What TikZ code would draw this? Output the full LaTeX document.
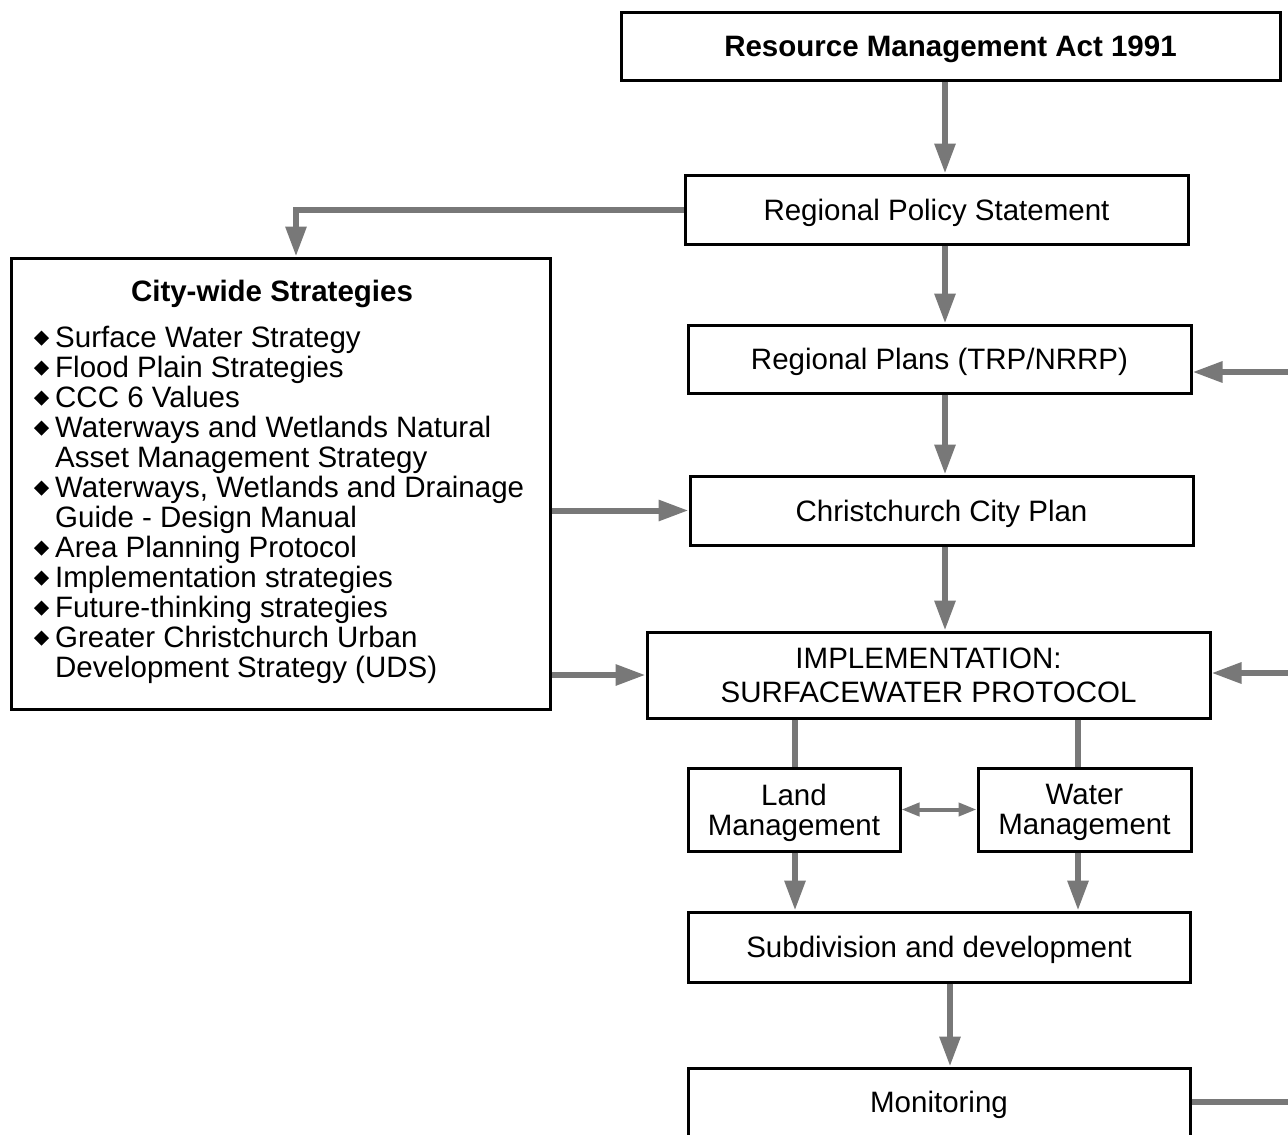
\documentclass[tikz,border=0pt]{standalone}
\usepackage{fontspec}
\setmainfont{Liberation Sans}
\usetikzlibrary{arrows.meta,positioning}
\definecolor{flowgray}{RGB}{120,120,120}
\tikzset{
    every node/.style={font=\fontsize{29.5}{30}\selectfont},
    box/.style={draw, line width=3pt, inner sep=0pt, text depth=0pt, align=center},
    flow/.style={draw=flowgray, line width=6pt, -{Triangle[length=30pt,width=20pt]}},
    link/.style={draw=flowgray, line width=6pt},
    both/.style={draw=flowgray, line width=4pt, {Triangle[length=18pt,width=13pt]}-{Triangle[length=18pt,width=13pt]}}
}
\begin{document}
\begin{tikzpicture}[x=1pt,y=-1pt]
    \useasboundingbox (0,0) rectangle (1288,1135);
    % boxes
    \node[box, minimum width=659, minimum height=68, font=\fontsize{29.5}{30}\selectfont\bfseries] (rma) at (950.5,46) {Resource Management Act 1991};
    \node[box, minimum width=503, minimum height=69] (rps) at (936.5,209.5) {Regional Policy Statement};
    \node[box, minimum width=503, minimum height=68] (rp) at (939.5,359) {Regional Plans (TRP/NRRP)};
    \node[box, minimum width=503, minimum height=69] (cp) at (941.5,510.5) {Christchurch City Plan};
    \node[box, minimum width=563, minimum height=86, font=\fontsize{29.5}{34}\selectfont] (impl) at (928.5,675) {IMPLEMENTATION:\\SURFACEWATER PROTOCOL};
    \node[box, minimum width=212, minimum height=83] (land) at (794,809.5) {Land\\Management};
    \node[box, minimum width=213, minimum height=83] (water) at (1084.5,809.5) {Water\\Management};
    \node[box, minimum width=502, minimum height=70] (subdiv) at (939,947) {Subdivision and development};
    \node[box, minimum width=502, minimum height=68] (mon) at (939,1102) {Monitoring};
    % city-wide strategies
    \node[box, minimum width=539, minimum height=451] (cws) at (280.5,483.5) {};
    \node[font=\fontsize{29.5}{30}\selectfont\bfseries, text depth=0pt, inner sep=0pt] (cwstitle) at (272,291) {City-wide Strategies};
    \node[anchor=north west, inner sep=0pt, align=left] (cwslist) at (55,325.5) {%
        Surface Water Strategy\\
        Flood Plain Strategies\\
        CCC 6 Values\\
        Waterways and Wetlands Natural\\
        Asset Management Strategy\\
        Waterways, Wetlands and Drainage\\
        Guide - Design Manual\\
        Area Planning Protocol\\
        Implementation strategies\\
        Future-thinking strategies\\
        Greater Christchurch Urban\\
        Development Strategy (UDS)};
    \foreach \i in {0,1,2,3,5,7,8,9,10}
        \fill[shift={(41.5,338+30*\i)}] (-7.5,0) -- (0,-7.5) -- (7.5,0) -- (0,7.5) -- cycle;
    % guide coordinates
    \coordinate (spine) at (945,0);
    \coordinate (low) at (950,0);
    \coordinate (cwsx) at (296,0);
    \coordinate (lx) at (795,0);
    \coordinate (wx) at (1078,0);
    \coordinate (rpin) at (1288,372);
    \coordinate (implin) at (1288,673);
    \coordinate (edge) at (1288,0);
    % connectors
    \draw[flow] (rma.south -| spine) -- (rps.north -| spine);
    \draw[flow] (rps.west) -| (cws.north -| cwsx);
    \draw[flow] (rps.south -| spine) -- (rp.north -| spine);
    \draw[flow] (rpin) -- (rpin -| rp.east);
    \draw[flow] (rp.south -| spine) -- (cp.north -| spine);
    \draw[flow] (cws.east |- cp.west) -- (cp.west);
    \draw[flow] (cp.south -| spine) -- (impl.north -| spine);
    \draw[flow] (cws.east |- impl.west) -- (impl.west);
    \draw[flow] (implin) -- (implin -| impl.east);
    \draw[link] (impl.south -| lx) -- (land.north -| lx);
    \draw[link] (impl.south -| wx) -- (water.north -| wx);
    \draw[both] (land.east) -- (water.west);
    \draw[flow] (land.south -| lx) -- (subdiv.north -| lx);
    \draw[flow] (water.south -| wx) -- (subdiv.north -| wx);
    \draw[flow] (subdiv.south -| low) -- (mon.north -| low);
    \draw[link] (mon.east) -- (mon.east -| edge);
\end{tikzpicture}
\end{document}
